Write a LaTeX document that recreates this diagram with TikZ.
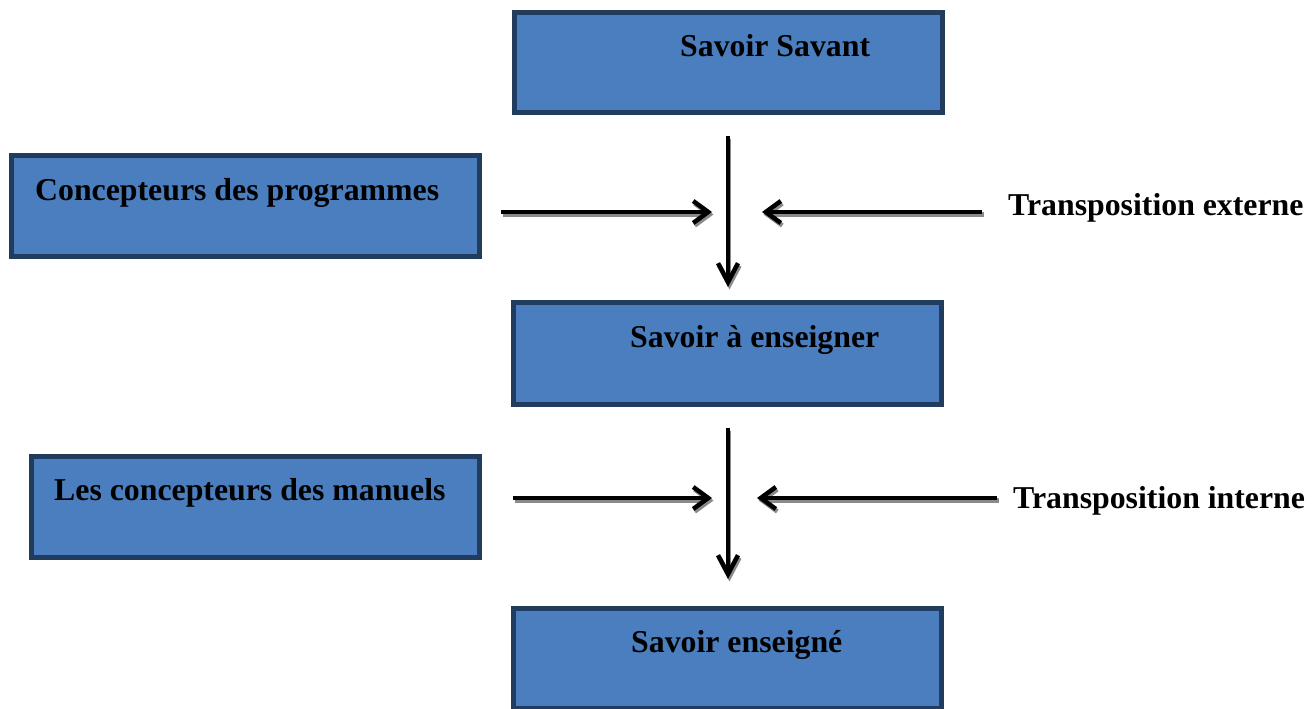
\documentclass[tikz,border=0pt]{standalone}
\usepackage{fontspec}
\setmainfont{Liberation Serif}
\usetikzlibrary{arrows.meta}
\definecolor{boxfill}{HTML}{4A7EBF}
\definecolor{boxline}{HTML}{213C5F}
\definecolor{shadowgray}{HTML}{8A8A8A}
\tikzset{
  box/.style={draw=boxline, fill=boxfill, line width=5pt, rectangle, inner sep=0pt},
  lbl/.style={anchor=base west, inner sep=0pt, font=\bfseries\fontsize{31.8}{38}\selectfont, text=black},
  harrow/.style={line width=4.5pt, -{Straight Barb[length=15pt,width=22pt,line width=4.5pt]}},
  varrow/.style={line width=3.5pt, -{Straight Barb[length=19pt,width=20pt,line width=4.5pt]}},
  shad/.style={draw=shadowgray, transform canvas={xshift=1.5pt,yshift=-2.5pt}}
}
\begin{document}
\begin{tikzpicture}[x=1pt,y=-1pt]
\useasboundingbox (0,0) rectangle (1312,709);
% boxes
\node[box, minimum width=428pt, minimum height=100pt] (b1) at (728.5,62.5) {};
\node[box, minimum width=468pt, minimum height=101pt] (b2) at (245.5,206) {};
\node[box, minimum width=428pt, minimum height=102pt] (b3) at (727.5,353.5) {};
\node[box, minimum width=448pt, minimum height=101pt] (b4) at (255.5,507) {};
\node[box, minimum width=428pt, minimum height=100pt] (b5) at (727.5,658.5) {};
% texts
\node[lbl] (t1) at (680,57) {Savoir Savant};
\node[lbl] (t2) at (35,200) {Concepteurs des programmes};
\node[lbl] (t3) at (630,347) {Savoir à enseigner};
\node[lbl] (t4) at (54,500) {Les concepteurs des manuels};
\node[lbl] (t5) at (631,652) {Savoir enseigné};
\node[lbl] (te) at (1008,215) {Transposition externe};
\node[lbl] (ti) at (1013,508) {Transposition interne};
% arrow endpoints
\coordinate (v1s) at (728,136);
\coordinate (v1e) at (728,287);
\coordinate (h1ls) at (501,212);
\coordinate (h1le) at (712,212);
\coordinate (h1rs) at (982,212);
\coordinate (h1re) at (762,212);
\coordinate (v2s) at (728,428);
\coordinate (v2e) at (728,579);
\coordinate (h2ls) at (513,498);
\coordinate (h2le) at (712,498);
\coordinate (h2rs) at (997,498);
\coordinate (h2re) at (757,498);
% arrow shadows
\draw[varrow, shad] (v1s) -- (v1e);
\draw[harrow, shad] (h1ls) -- (h1le);
\draw[harrow, shad] (h1rs) -- (h1re);
\draw[varrow, shad] (v2s) -- (v2e);
\draw[harrow, shad] (h2ls) -- (h2le);
\draw[harrow, shad] (h2rs) -- (h2re);
% arrows
\draw[varrow] (v1s) -- (v1e);
\draw[harrow] (h1ls) -- (h1le);
\draw[harrow] (h1rs) -- (h1re);
\draw[varrow] (v2s) -- (v2e);
\draw[harrow] (h2ls) -- (h2le);
\draw[harrow] (h2rs) -- (h2re);
\end{tikzpicture}
\end{document}
